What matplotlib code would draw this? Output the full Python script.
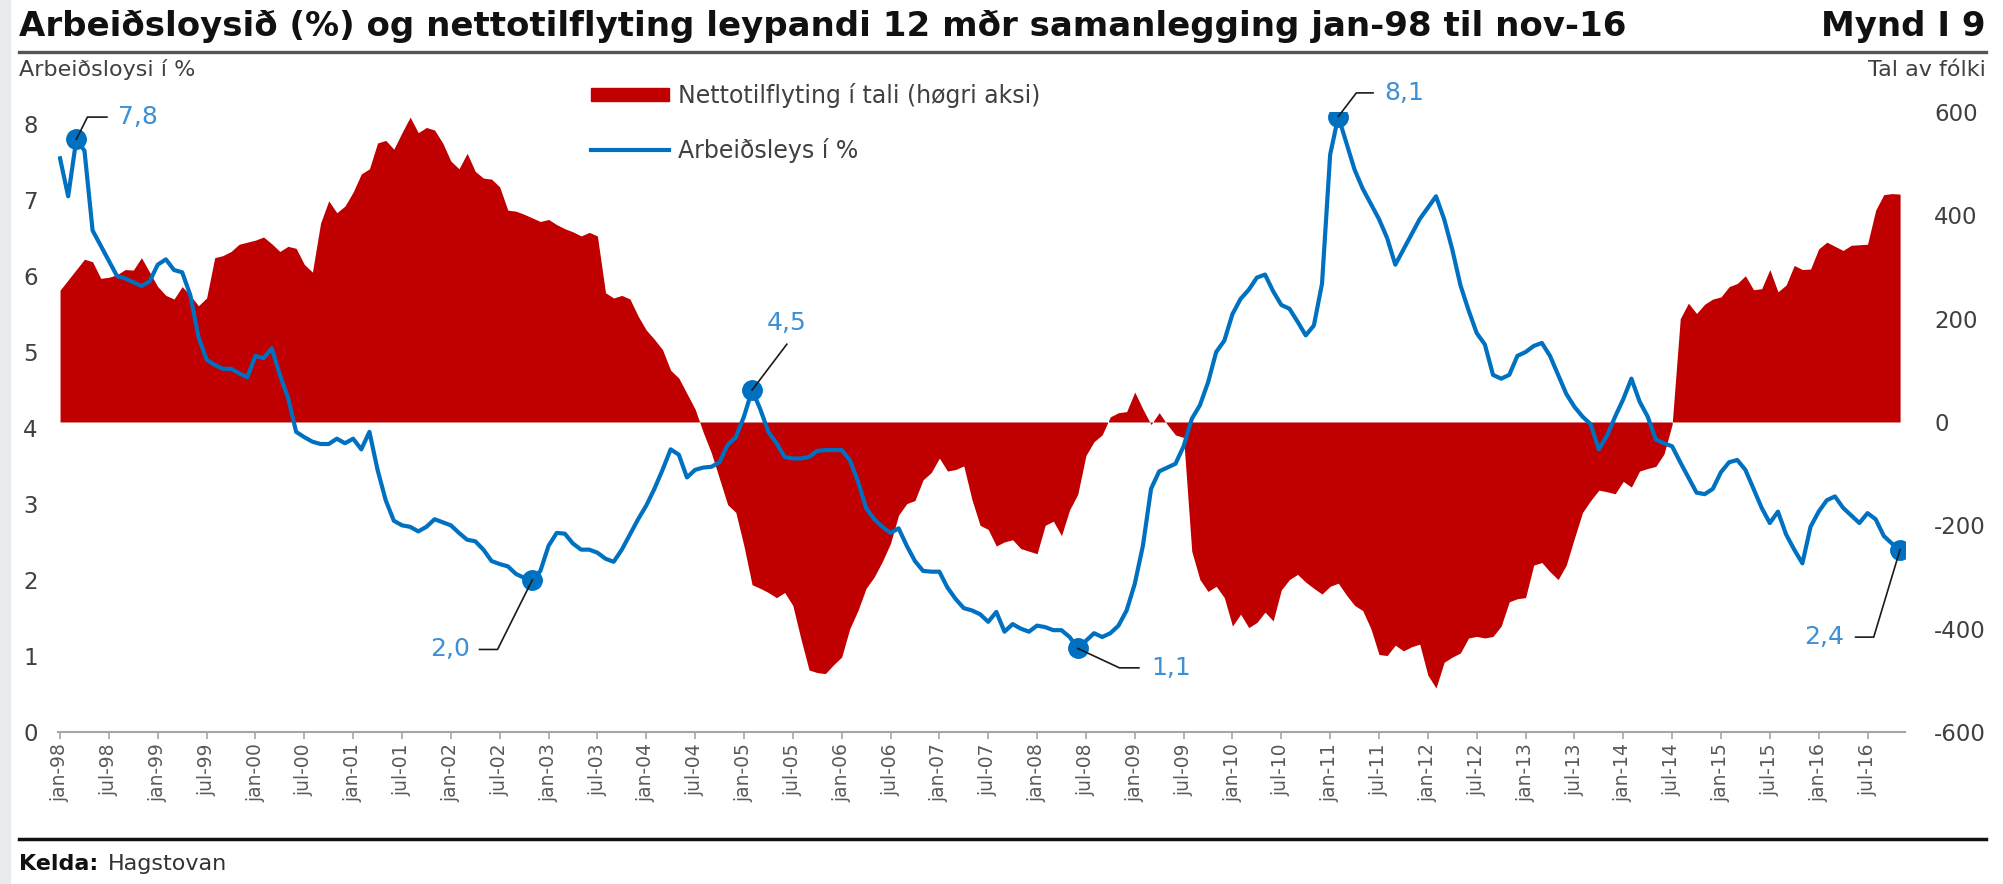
import matplotlib
matplotlib.use("Agg")
import matplotlib.pyplot as plt
from matplotlib.lines import Line2D
from matplotlib.patches import Patch, Rectangle
from matplotlib.transforms import Affine2D, ScaledTranslation

plt.rcParams["font.family"] = ["DejaVu Sans"]
plt.rcParams["axes.unicode_minus"] = False

# Arbeiðsloysi í %, mánaðarlig virði jan-98 .. nov-16 (ein rað fyri hvørt ár)
arbeidsloysi = [
    7.55, 7.05, 7.80, 7.65, 6.60, 6.40, 6.20, 6.00, 5.97, 5.92, 5.87, 5.93,  # 1998
    6.15, 6.22, 6.08, 6.05, 5.75, 5.20, 4.90, 4.83, 4.78, 4.78, 4.72, 4.67,  # 1999
    4.95, 4.92, 5.05, 4.70, 4.40, 3.95, 3.88, 3.82, 3.79, 3.79, 3.86, 3.80,  # 2000
    3.86, 3.72, 3.95, 3.45, 3.05, 2.78, 2.72, 2.70, 2.64, 2.70, 2.80, 2.76,  # 2001
    2.72, 2.62, 2.53, 2.51, 2.40, 2.25, 2.21, 2.18, 2.08, 2.03, 2.00, 2.12,  # 2002
    2.45, 2.62, 2.61, 2.48, 2.40, 2.40, 2.36, 2.28, 2.24, 2.40, 2.60, 2.80,  # 2003
    2.98, 3.20, 3.45, 3.72, 3.65, 3.35, 3.45, 3.48, 3.49, 3.55, 3.78, 3.88,  # 2004
    4.15, 4.50, 4.25, 3.95, 3.80, 3.62, 3.60, 3.60, 3.62, 3.70, 3.71, 3.71,  # 2005
    3.71, 3.58, 3.30, 2.95, 2.80, 2.70, 2.62, 2.68, 2.45, 2.25, 2.12, 2.11,  # 2006
    2.11, 1.90, 1.75, 1.63, 1.60, 1.55, 1.45, 1.58, 1.32, 1.42, 1.36, 1.32,  # 2007
    1.40, 1.38, 1.34, 1.34, 1.25, 1.10, 1.20, 1.30, 1.25, 1.30, 1.40, 1.60,  # 2008
    1.95, 2.45, 3.20, 3.43, 3.48, 3.53, 3.76, 4.12, 4.30, 4.60, 5.00, 5.15,  # 2009
    5.50, 5.70, 5.82, 5.98, 6.02, 5.80, 5.62, 5.57, 5.40, 5.22, 5.35, 5.90,  # 2010
    7.60, 8.10, 7.75, 7.40, 7.15, 6.95, 6.75, 6.50, 6.15, 6.35, 6.55, 6.75,  # 2011
    6.90, 7.05, 6.75, 6.35, 5.88, 5.55, 5.25, 5.10, 4.70, 4.65, 4.70, 4.95,  # 2012
    5.00, 5.08, 5.12, 4.95, 4.70, 4.45, 4.28, 4.15, 4.05, 3.72, 3.90, 4.15,  # 2013
    4.38, 4.65, 4.35, 4.15, 3.85, 3.80, 3.76, 3.55, 3.35, 3.15, 3.13, 3.20,  # 2014
    3.42, 3.55, 3.58, 3.45, 3.20, 2.95, 2.75, 2.90, 2.60, 2.40, 2.22, 2.70,  # 2015
    2.90, 3.05, 3.10, 2.95, 2.85, 2.75, 2.88, 2.80, 2.58, 2.48, 2.40,        # 2016
]

# Nettotilflyting, leypandi 12 mðr samanlegging (høgri akse)
tilflyting = [
    255, 275, 295, 315, 310, 278, 280, 285, 295, 294, 318, 290,  # 1998
    262, 245, 238, 262, 245, 225, 240, 318, 322, 330, 344, 348,  # 1999
    352, 358, 345, 330, 340, 336, 305, 290, 385, 428, 405, 418,  # 2000
    445, 480, 490, 540, 545, 528, 560, 590, 560, 570, 565, 540,  # 2001
    505, 490, 520, 485, 472, 470, 455, 410, 408, 402, 395, 388,  # 2002
    392, 382, 374, 368, 360, 367, 360, 250, 240, 245, 238, 205,  # 2003
    178, 160, 140, 100, 85, 55, 25, -20, -60, -110, -160, -175,  # 2004
    -240, -315, -322, -330, -340, -330, -355, -420, -480, -485, -487, -470,  # 2005
    -455, -400, -365, -322, -300, -270, -235, -180, -158, -152, -112, -98,  # 2006
    -70, -95, -92, -85, -150, -200, -208, -240, -232, -228, -245, -250,  # 2007
    -255, -200, -192, -220, -170, -140, -65, -38, -25, 10, 18, 20,  # 2008
    58, 25, -5, 18, -5, -25, -30, -250, -305, -328, -318, -340,  # 2009
    -395, -372, -398, -388, -368, -385, -325, -305, -295, -310, -322, -333,  # 2010
    -318, -312, -335, -355, -365, -400, -450, -452, -432, -443, -435, -430,  # 2011
    -490, -515, -465, -455, -447, -418, -415, -418, -415, -395, -348, -342,  # 2012
    -340, -277, -272, -290, -305, -277, -225, -175, -152, -132, -135, -139,  # 2013
    -115, -126, -95, -90, -86, -62, -5, 200, 230, 210, 228, 238,  # 2014
    242, 262, 268, 283, 256, 258, 295, 252, 265, 303, 295, 296,  # 2015
    335, 348, 340, 332, 342, 343, 344, 410, 440, 442, 441,  # 2016
]

manadir = list(range(len(arbeidsloysi)))
ar = ["98", "99", "00", "01", "02", "03", "04", "05", "06", "07", "08",
      "09", "10", "11", "12", "13", "14", "15", "16"]
tick_pos = list(range(0, 223, 6))
tick_labels = [f"{m}-{y}" for y in ar for m in ("jan", "jul")]

# merktir punktir (mánaðar-index) og leiðilinjur (offset í pt)
merki_idx = [2, 58, 85, 125, 157, 226]
leidari = [
    ((8, 16), (22, 16), (30, 16), "left", "center"),
    ((-25, -50), (-38, -50), (-45, -50), "right", "center"),
    ((25, 33), (25, 33), (25, 48), "center", "center"),
    ((30, -14), (44, -14), (53, -14), "left", "center"),
    ((13, 17), (25, 17), (33, 17), "left", "center"),
    ((-19, -63), (-32, -63), (-40, -63), "right", "center"),
]

RED = "#C00000"
BLUE = "#0070C0"
LBLUE = "#3D8FD6"
GREY = "#404040"

fig = plt.figure(figsize=(20.03, 8.84), dpi=100)
fig.patch.set_facecolor("white")
fig.add_artist(Rectangle((0, 0), 10 / 2003, 1, transform=fig.transFigure,
                         color="#E8ECEC", zorder=0))

ax = fig.add_axes([0.02916, 0.17195, 0.9219, 0.7014])
axr = ax.twinx()
ax.set_zorder(2)
axr.set_zorder(1)
ax.patch.set_visible(False)

axr.fill_between(manadir, 0, tilflyting, color=RED, lw=0)
axr.set_ylim(-600, 600)
axr.set_yticks(range(-600, 601, 200))

ax.plot(manadir, arbeidsloysi, color=BLUE, lw=3.0, solid_joinstyle="round")
ax.set_ylim(0, 8.16)
ax.set_yticks(range(0, 9))
ax.set_xlim(-0.2, 226.6)
ax.set_xticks(tick_pos)
ax.set_xticklabels(tick_labels, rotation=90)

for a in (ax, axr):
    for s in a.spines.values():
        s.set_visible(False)
ax.spines["bottom"].set_visible(True)
ax.spines["bottom"].set_color("#A6A6A6")
ax.spines["bottom"].set_linewidth(1.5)

ax.tick_params(axis="y", length=0, pad=15, labelsize=16.5, labelcolor=GREY)
axr.tick_params(axis="y", length=0, pad=21, labelsize=16.5, labelcolor=GREY)
ax.tick_params(axis="x", length=5, width=1.2, color="#A6A6A6", pad=3,
               labelsize=13.5, labelcolor="#595959")

# merki og leiðilinjur
for i, (elbow, endp, txt, ha, va) in zip(merki_idx, leidari):
    v = arbeidsloysi[i]
    ax.plot([i], [v], "o", color=BLUE, ms=14, zorder=5)
    tr = Affine2D().scale(fig.dpi / 72) + ScaledTranslation(i, v, ax.transData)
    ax.plot([0, elbow[0], endp[0]], [0, elbow[1], endp[1]], color="#1a1a1a",
            lw=1.2, transform=tr, zorder=6, clip_on=False)
    ax.annotate(f"{v:.1f}".replace(".", ","), xy=(i, v), xytext=txt,
                textcoords="offset points", ha=ha, va=va, fontsize=18,
                color=LBLUE, zorder=7)

handles = [Patch(color=RED), Line2D([], [], color=BLUE, lw=3.0)]
ax.legend(handles, ["Nettotilflyting í tali (høgri aksi)", "Arbeiðsleys í %"],
          loc="upper left", bbox_to_anchor=(0.295, 0.906),
          bbox_transform=fig.transFigure, frameon=False, fontsize=17,
          handlelength=3.3, handleheight=0.5, handletextpad=0.4,
          labelspacing=1.25, borderpad=0, borderaxespad=0, labelcolor=GREY)

# yvirskrift og tekstir
fig.text(0.0095, 0.970, "Arbeiðsloysið (%) og nettotilflyting leypandi 12 mðr "
         "samanlegging jan-98 til nov-16", fontsize=24.5, fontweight="bold",
         va="center", ha="left", color="#111111")
fig.text(0.9915, 0.970, "Mynd I 9", fontsize=24.5, fontweight="bold",
         va="center", ha="right", color="#111111")
fig.add_artist(Line2D([0.0095, 0.9915], [0.9410, 0.9410], transform=fig.transFigure,
                      color="#555555", lw=2.4))
fig.text(0.0095, 0.921, "Arbeiðsloysi í %", fontsize=16, va="center",
         ha="left", color=GREY)
fig.text(0.9915, 0.921, "Tal av fólki", fontsize=16, va="center",
         ha="right", color=GREY)

fig.add_artist(Line2D([0.0095, 0.9915], [0.0509, 0.0509], transform=fig.transFigure,
                      color="#111111", lw=2.5))
fig.text(0.0095, 0.0226, "Kelda:", fontsize=16, fontweight="bold",
         va="center", ha="left", color="#111111")
fig.text(0.054, 0.0226, "Hagstovan", fontsize=16, va="center", ha="left",
         color="#333333")

fig.savefig("out.png", dpi=100)
